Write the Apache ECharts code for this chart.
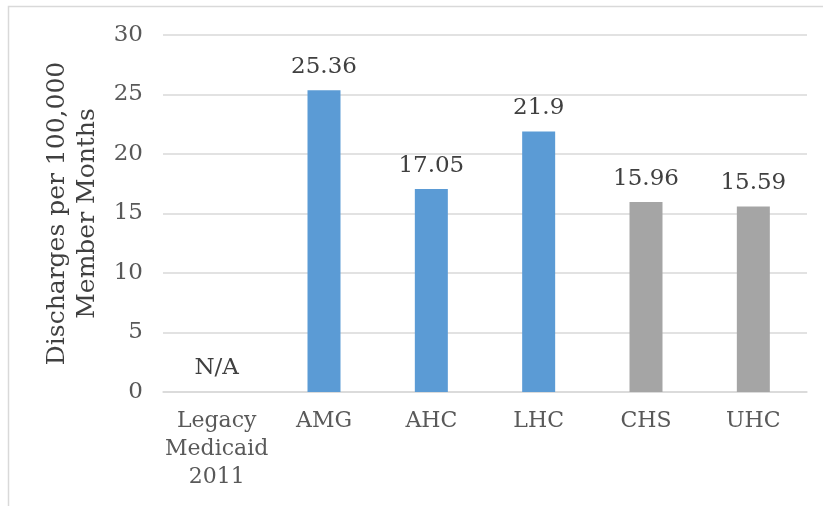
<!DOCTYPE html>
<html>
<head>
<meta charset="utf-8">
<script src="https://cdn.jsdelivr.net/npm/echarts@6/dist/echarts.min.js"></script>
<style>
  html, body { margin: 0; padding: 0; background: #fff; }
  #chart { width: 823px; height: 506px; }
</style>
</head>
<body>
<div id="chart"></div>
<script>
// Inpatient discharges per 100,000 member months, by plan
const categories = ['Legacy\nMedicaid\n2011', 'AMG', 'AHC', 'LHC', 'CHS', 'UHC'];
const discharges = [0, 25.36, 17.05, 21.9, 15.96, 15.59];
const valueLabels = ['N/A', '25.36', '17.05', '21.9', '15.96', '15.59'];
const barColors = ['#5B9BD5', '#5B9BD5', '#5B9BD5', '#5B9BD5', '#A5A5A5', '#A5A5A5'];
const yTicks = [0, 5, 10, 15, 20, 25, 30];

const FONT = 'DejaVu Serif';
const chart = echarts.init(document.getElementById('chart'), null, { renderer: 'canvas' });

chart.setOption({
  animation: false,
  backgroundColor: '#ffffff',
  graphic: [{
    type: 'rect',
    shape: { x: 8.5, y: 6.5, width: 900, height: 600 },
    style: { fill: 'none', stroke: '#D9D9D9', lineWidth: 1.5 },
    silent: true
  }],
  grid: { left: 163, right: 16, top: 35, bottom: 114 },
  xAxis: {
    type: 'category',
    data: categories,
    axisLine: { lineStyle: { color: '#D9D9D9', width: 1.5 } },
    axisTick: { show: false },
    axisLabel: {
      color: '#595959', fontFamily: FONT, fontSize: 22, lineHeight: 28,
      margin: 15, interval: 0
    }
  },
  yAxis: {
    type: 'value',
    min: yTicks[0],
    max: yTicks[yTicks.length - 1],
    interval: 5,
    name: 'Discharges per 100,000\nMember Months',
    nameLocation: 'middle',
    nameGap: 58,
    nameTextStyle: { color: '#404040', fontFamily: FONT, fontSize: 25, lineHeight: 30 },
    axisLine: { show: false },
    axisTick: { show: false },
    splitLine: { lineStyle: { color: '#D9D9D9', width: 1.5 } },
    axisLabel: { color: '#595959', fontFamily: FONT, fontSize: 23, margin: 20 }
  },
  series: [{
    type: 'bar',
    barWidth: 33,
    data: discharges.map((v, i) => ({ value: v, itemStyle: { color: barColors[i] } })),
    label: {
      show: true,
      position: 'top',
      distance: 12,
      color: '#404040',
      fontFamily: FONT,
      fontSize: 23,
      formatter: p => valueLabels[p.dataIndex]
    }
  }]
});
</script>
</body>
</html>
